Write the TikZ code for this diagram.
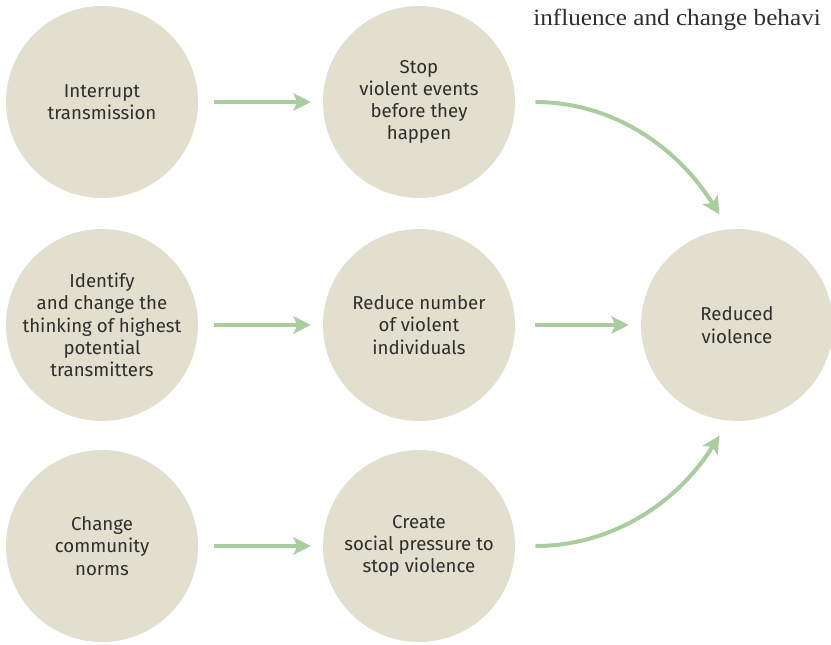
\documentclass[tikz,border=0pt]{standalone}
\usepackage{fontspec}
\setmainfont{Fira Sans}
\newfontfamily\capfont[FakeStretch=1.08]{Liberation Serif}
\usetikzlibrary{arrows.meta}

\definecolor{discfill}{HTML}{E2DFCF}
\definecolor{arrowgreen}{HTML}{A9CD9C}
\definecolor{labeltext}{HTML}{2E2E2E}

\begin{document}
\begin{tikzpicture}[
        x=0.75pt, y=-0.75pt,
        stepnode/.style={
            circle,
            fill=discfill,
            align=center,
            inner sep=0pt,
            minimum size=144pt,
            text=labeltext,
            font=\fontsize{14}{16.7}\selectfont
        },
        arrow/.style={
            -{Stealth[length=13pt, width=13pt, inset=3pt]},
            draw=arrowgreen,
            line width=3pt,
            shorten >=9pt,
            shorten <=12pt
        }
    ]
        \useasboundingbox (0,0) rectangle (831,644);

        % Actions
        \node[stepnode] (interrupt) at (102,102) {Interrupt\\transmission};
        \node[stepnode] (identify) at (102,325)
            {Identify\\and change the\\thinking of highest\\potential\\transmitters};
        \node[stepnode] (norms) at (102,546) {Change\\community\\norms};

        % Effects
        \node[stepnode] (stop) at (419,102) {Stop\\violent events\\before they\\happen};
        \node[stepnode] (reduce) at (419,325)
            {Reduce number\\of violent\\individuals};
        \node[stepnode] (pressure) at (419,546)
            {Create\\social pressure to\\stop violence};

        % Outcome
        \node[stepnode] (outcome) at (737,325) {Reduced\\violence};

        \draw[arrow] (interrupt) -- (stop);
        \draw[arrow] (identify) -- (reduce);
        \draw[arrow] (norms) -- (pressure);
        \draw[arrow, shorten <=15pt] (reduce) -- (outcome);
        \draw[arrow, shorten <=15pt, shorten >=13pt]
            (stop.east) to[out=0, in=122] (outcome.95);
        \draw[arrow, shorten <=15pt, shorten >=13pt]
            (pressure.east) to[out=0, in=-122] (outcome.265);

        \node[anchor=base west, text=labeltext, inner sep=0pt,
            font=\capfont\fontsize{17.5}{21}\selectfont] (caption) at (533,25)
            {influence and change behavi};

    \end{tikzpicture}
\end{document}
